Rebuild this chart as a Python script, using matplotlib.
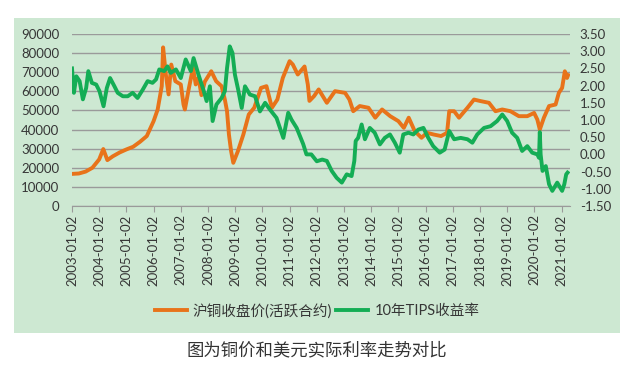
import numpy as np
import matplotlib
matplotlib.use('Agg')
from matplotlib import pyplot as plt
from matplotlib.patches import Rectangle

plt.rcParams['font.family'] = ['Lato', 'Noto Sans CJK SC', 'DejaVu Sans']

# copper close (left axis)
cu_year = [2003.0, 2003.25, 2003.5, 2003.75, 2004.0, 2004.15, 2004.3, 2004.5, 2004.75,
           2005.0, 2005.25, 2005.5, 2005.75, 2006.0, 2006.15, 2006.3, 2006.35, 2006.45,
           2006.55, 2006.65, 2006.8, 2007.0, 2007.1, 2007.15, 2007.3, 2007.45, 2007.55,
           2007.65, 2007.76, 2007.88, 2008.12, 2008.3, 2008.5, 2008.62, 2008.7, 2008.77,
           2008.85, 2008.93, 2009.1, 2009.3, 2009.5, 2009.7, 2009.95, 2010.15, 2010.35,
           2010.55, 2010.75, 2011.0, 2011.12, 2011.3, 2011.55, 2011.67, 2011.73, 2011.9,
           2012.07, 2012.37, 2012.67, 2013.04, 2013.2, 2013.34, 2013.58, 2013.9, 2014.15,
           2014.4, 2014.7, 2015.0, 2015.2, 2015.38, 2015.6, 2015.85, 2016.05, 2016.3,
           2016.57, 2016.79, 2016.87, 2017.05, 2017.23, 2017.54, 2017.78, 2018.02, 2018.33,
           2018.57, 2018.82, 2019.12, 2019.43, 2019.74, 2019.99, 2020.11, 2020.2, 2020.35,
           2020.54, 2020.78, 2020.9, 2021.02, 2021.12, 2021.2, 2021.24]
cu_price = [16800, 17000, 18000, 20000, 24400, 29800, 24000, 26000, 28000,
            29600, 31000, 33600, 36600, 44400, 50500, 62700, 83000, 68800,
            58400, 74000, 65300, 63600, 53100, 50500, 61800, 72300, 63600,
            67000, 58000, 65000, 70500, 65300, 62700, 55700, 49600, 37400,
            28700, 22600, 28700, 37400, 47900, 51400, 61800, 62700, 51400,
            55700, 67000, 75800, 74000, 68800, 73000, 63600, 55000, 57500,
            61000, 54000, 60100, 59200, 55700, 49600, 52300, 51400, 46200,
            50500, 47000, 44400, 40900, 46200, 39200, 35700, 38300, 37400,
            36600, 38300, 49600, 49600, 46200, 51400, 55700, 54900, 54000,
            49600, 50500, 49600, 47000, 47000, 48700, 45200, 40000, 46200,
            52300, 53100, 59200, 61800, 70500, 67000, 68500]

# 10y TIPS yield (right axis)
tips_year = [2003.0, 2003.07, 2003.16, 2003.28, 2003.4, 2003.52, 2003.6, 2003.73, 2003.89,
             2004.01, 2004.16, 2004.28, 2004.4, 2004.56, 2004.68, 2004.87, 2005.05, 2005.23,
             2005.41, 2005.6, 2005.78, 2005.96, 2006.09, 2006.21, 2006.39, 2006.51, 2006.63,
             2006.82, 2007.0, 2007.18, 2007.37, 2007.47, 2007.65, 2007.83, 2007.95, 2008.07,
             2008.17, 2008.31, 2008.5, 2008.62, 2008.7, 2008.8, 2008.9, 2008.99, 2009.11,
             2009.24, 2009.36, 2009.54, 2009.73, 2009.91, 2010.1, 2010.28, 2010.52, 2010.77,
             2010.95, 2011.07, 2011.26, 2011.5, 2011.62, 2011.8, 2012.0, 2012.2, 2012.37,
             2012.55, 2012.73, 2012.92, 2013.1, 2013.28, 2013.38, 2013.43, 2013.52, 2013.65,
             2013.77, 2013.95, 2014.13, 2014.32, 2014.5, 2014.69, 2014.87, 2015.05, 2015.18,
             2015.37, 2015.55, 2015.73, 2015.92, 2016.1, 2016.28, 2016.52, 2016.7, 2016.87,
             2017.05, 2017.29, 2017.54, 2017.72, 2017.9, 2018.15, 2018.39, 2018.63, 2018.82,
             2019.0, 2019.18, 2019.37, 2019.55, 2019.74, 2019.92, 2020.11, 2020.17, 2020.2,
             2020.23, 2020.3, 2020.42, 2020.54, 2020.66, 2020.84, 2021.02, 2021.1, 2021.17,
             2021.22]
tips_yield = [2.5, 1.79, 2.27, 2.13, 1.6, 1.93, 2.42, 2.08, 2.03,
              1.84, 1.4, 1.93, 2.22, 1.98, 1.79, 1.69, 1.69, 1.79,
              1.64, 1.88, 2.13, 2.08, 2.18, 2.47, 2.42, 2.56, 2.37,
              2.47, 2.22, 2.76, 2.42, 2.8, 2.32, 1.88, 1.55, 1.98,
              0.97, 1.45, 1.64, 1.84, 2.51, 3.14, 2.95, 2.32, 1.88,
              1.35, 1.98, 1.74, 1.69, 1.25, 1.5, 1.3, 1.06, 0.48,
              1.21, 1.01, 0.77, 0.3, 0.0, 0.0, -0.2, -0.15, -0.19,
              -0.48, -0.68, -0.82, -0.58, -0.63, -0.19, 0.39, 0.48, 0.87,
              0.44, 0.77, 0.63, 0.29, 0.48, 0.58, 0.34, 0.05, 0.58,
              0.63, 0.58, 0.72, 0.77, 0.48, 0.24, 0.05, 0.14, 0.68,
              0.44, 0.48, 0.44, 0.34, 0.58, 0.77, 0.82, 0.97, 1.16,
              0.97, 0.63, 0.48, 0.1, 0.24, 0.05, 0.0, -0.1, 0.65,
              0.0, -0.48, -0.34, -0.87, -1.06, -0.82, -1.06, -0.87, -0.58,
              -0.53]

years = list(range(2003, 2022))
year_labels = ['{}-01-02'.format(y) for y in years]
left_ticks = list(range(0, 90001, 10000))
right_ticks = [3.5, 3.0, 2.5, 2.0, 1.5, 1.0, 0.5, 0.0, -0.5, -1.0, -1.5]

W, H = 632, 368
fig = plt.figure(figsize=(W / 100, H / 100), dpi=100)
fig.patch.set_facecolor('white')
fig.patches.append(Rectangle((14 / W, (H - 333) / H), 606 / W, 315 / H,
                             transform=fig.transFigure, facecolor='#cde8d2',
                             edgecolor='none', zorder=-10))

ax = fig.add_axes([72 / W, (H - 206) / H, 498 / W, 172 / H])
ax.set_facecolor('none')
ax2 = ax.twinx()

orange = '#e8731a'
green = '#14ad55'
lc, = ax.plot(cu_year, cu_price, color=orange, lw=2.8, solid_joinstyle='round')
lt, = ax2.plot(tips_year, tips_yield, color=green, lw=2.8, solid_joinstyle='round')

ax.set_xlim(2003.0, 2021.31)
ax.set_ylim(0, 90000)
ax2.set_ylim(-1.5, 3.5)

ax.set_yticks(left_ticks)
ax.set_yticklabels([str(v) for v in left_ticks])
ax2.set_yticks(right_ticks)
ax2.set_yticklabels(['{:.2f}'.format(v) for v in right_ticks])
ax.set_xticks(years)
ax.set_xticklabels(year_labels, rotation=90)

ax.grid(axis='y', color='#9a9a9a', lw=1.0)
ax.set_axisbelow(True)
for a in (ax, ax2):
    for s in ('top', 'left', 'right'):
        a.spines[s].set_visible(False)
ax.spines['bottom'].set_color('#9a9a9a')
ax2.spines['bottom'].set_visible(False)

tc = '#363636'
ax.tick_params(axis='y', length=0, pad=9, labelsize=9.5, labelcolor=tc)
ax2.tick_params(axis='y', length=0, pad=7, labelsize=9.5, labelcolor=tc)
ax.tick_params(axis='x', length=4, color='#9a9a9a', pad=2, labelsize=9.5, labelcolor=tc)

fig.legend([lc, lt], ['沪铜收盘价(活跃合约)', '10年TIPS收益率'], loc='center',
           bbox_to_anchor=(317 / W, (H - 311) / H), ncol=2, frameon=False,
           fontsize=10.5, handlelength=2.2, handletextpad=0.4, columnspacing=0.3,
           labelcolor=tc)

fig.text(317 / W, (H - 350) / H, '图为铜价和美元实际利率走势对比', ha='center', va='center',
         fontsize=12.5, color='#333333')

fig.savefig('out.png', dpi=100)
